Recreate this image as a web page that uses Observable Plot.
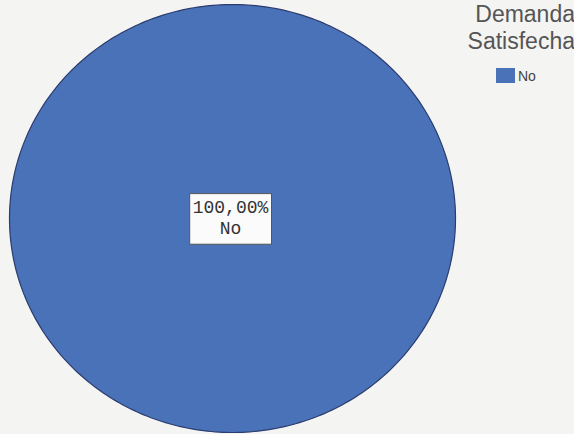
<!DOCTYPE html>
<html>
<head>
<meta charset="utf-8">
<script src="https://cdn.jsdelivr.net/npm/d3@7"></script>
<script src="https://cdn.jsdelivr.net/npm/@observablehq/plot@0.6"></script>
<style>
  html, body { margin: 0; padding: 0; background: #f4f4f2; }
  #wrap { position: relative; width: 574px; height: 434px; overflow: hidden; background: #f4f4f2; }
  #legend-title { position: absolute; right: -1px; top: 1px; font-family: "Liberation Sans", Arial, sans-serif; color: #555; font-size: 23px; line-height: 27px; text-align: right; }
  #legend-items { position: absolute; left: 496px; top: 68px; font-family: "Liberation Sans", Arial, sans-serif; font-size: 14px; color: #444; }
  #legend-items .item { display: flex; align-items: center; height: 15px; white-space: nowrap; }
  #legend-items .sw { width: 19px; height: 15px; margin-right: 3px; }
</style>
</head>
<body>
<div id="wrap"></div>
<script>
// ---- data ----
const categories = ["No"];
const values = [100];
const percentLabels = ["100,00%"];
const colors = ["#4a72b9"];
const legendTitle = ["Demanda", "Satisfecha"];

const data = categories.map((c, i) => ({category: c, value: values[i], pct: percentLabels[i]}));

// slice outlines derived from d3.pie angles, in unit data space
const arcs = d3.pie().sort(null).value(d => d.value)(data);
const outline = [];
const labels = [];
arcs.forEach(a => {
  const span = a.endAngle - a.startAngle;
  const full = span >= 2 * Math.PI - 1e-9;
  const n = Math.max(2, Math.ceil(span / (2 * Math.PI) * 360));
  if (!full) outline.push({category: a.data.category, x: 0, y: 0});
  for (let k = 0; k <= n; k++) {
    const t = a.startAngle + span * k / n;
    outline.push({category: a.data.category, x: Math.sin(t), y: Math.cos(t)});
  }
  const mid = (a.startAngle + a.endAngle) / 2;
  const rr = full ? 0 : 0.55;
  labels.push({x: rr * Math.sin(mid), y: rr * Math.cos(mid), text: a.data.pct + "\n" + a.data.category});
});

const chart = Plot.plot({
  width: 574,
  height: 434,
  marginLeft: 9,
  marginRight: 119,
  marginTop: 4,
  marginBottom: 2,
  style: {background: "transparent"},
  x: {domain: [-1, 1], axis: null},
  y: {domain: [-1, 1], axis: null},
  color: {domain: categories, range: colors},
  marks: [
    Plot.line(outline, {x: "x", y: "y", z: "category", fill: "category", stroke: "#2b3c6e", strokeWidth: 1.2, curve: "linear-closed"}),
    Plot.text(labels, {x: "x", y: "y", dx: -2, dy: -2, text: "text", fontFamily: "Liberation Mono, monospace", fontSize: 18, lineHeight: 1.2, fill: "#333", className: "slice-label"})
  ]
});

const wrap = document.getElementById("wrap");
wrap.appendChild(chart);

// white boxes behind slice labels
d3.select(chart).selectAll("g.slice-label text").each(function() {
  const b = this.getBBox();
  const px = 3, py = 5;
  d3.select(this.parentNode).insert("rect", () => this)
    .attr("transform", this.getAttribute("transform"))
    .attr("x", b.x - px).attr("y", b.y - py + 1)
    .attr("width", b.width + 2 * px).attr("height", b.height + 2 * py - 1)
    .attr("fill", "#fbfbfb").attr("stroke", "#555").attr("stroke-width", 1);
});

// legend
const lt = document.createElement("div");
lt.id = "legend-title";
lt.innerHTML = legendTitle.map(t => `<div>${t}</div>`).join("");
wrap.appendChild(lt);
const li = document.createElement("div");
li.id = "legend-items";
li.innerHTML = categories.map((c, i) => `<div class="item"><span class="sw" style="background:${colors[i]}"></span>${c}</div>`).join("");
wrap.appendChild(li);
</script>
</body>
</html>
